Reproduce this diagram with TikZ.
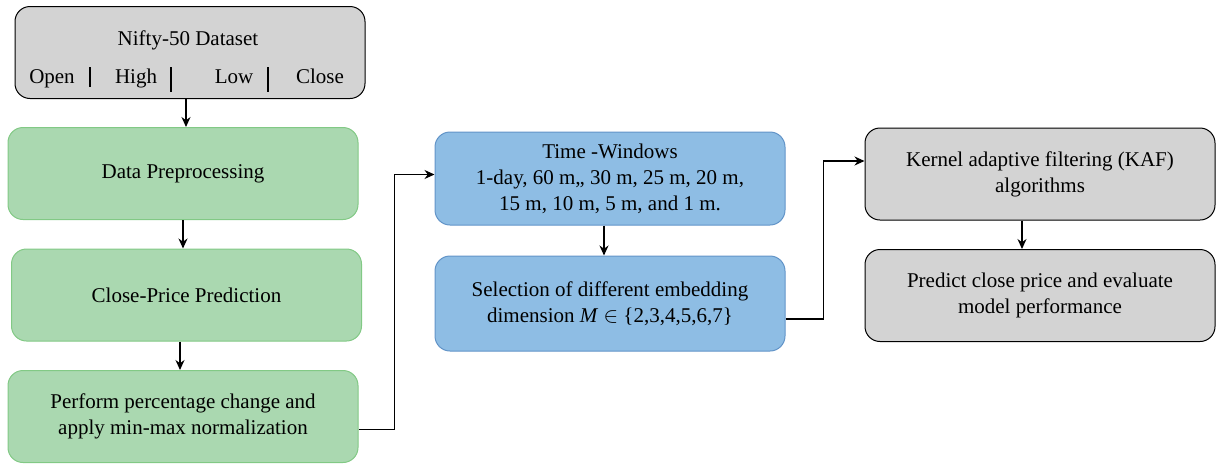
\documentclass[tikz,border=0pt]{standalone}
\usepackage{fontspec}
\setmainfont{Liberation Serif}
\usepackage{tikz}
\usetikzlibrary{
  arrows.meta,
  positioning
}
\definecolor{NiftyGray}{HTML}{D3D3D3}
\definecolor{NiftyGreen}{HTML}{AAD8B0}
\definecolor{NiftyGreenLine}{HTML}{82C985}
\definecolor{NiftyBlue}{HTML}{8EBDE4}
\definecolor{NiftyBlueLine}{HTML}{6294C8}

\begin{document}
\begin{tikzpicture}[
  x=0.5pt, y=-0.5pt,
  every node/.style={font=\fontsize{10.5}{13}\selectfont,align=center},
  stagebox/.style={rounded corners=7.5pt,minimum width=175pt,
    minimum height=46pt,inner sep=2pt,line width=0.5pt},
  graybox/.style={stagebox,draw=black,fill=NiftyGray},
  greenbox/.style={stagebox,draw=NiftyGreenLine,fill=NiftyGreen},
  bluebox/.style={stagebox,draw=NiftyBlueLine,fill=NiftyBlue},
  flow/.style={draw=black,line width=0.6pt,-{Stealth[length=5pt,width=4.5pt]}}
]
\useasboundingbox (0,0) rectangle (1223,467);

% dataset
\node[graybox] (dataset) at (190,52.5) {};
\node (title) at (188,40) {Nifty-50 Dataset};
\foreach \name/\x in {Open/52,High/136,Low/234,Close/320}
  \node[anchor=base] (col\name) at (\x,83) {\name};
\foreach \x/\yb in {90/87,171/92,268/92}
  \draw[line width=0.6pt] (\x,67) -- (\x,\yb);

% left column
\node[greenbox] (prep) at (183,173.5) {Data Preprocessing};
\node[greenbox] (close) at (186.5,295) {Close-Price Prediction};
\node[greenbox] (perform) at (183,416.5) {Perform percentage change and\\apply min-max normalization};

% middle column
\node[bluebox,minimum height=46.5pt] (windows) at (610,178.5)
  {Time -Windows\\1-day, 60 m,, 30 m, 25 m, 20 m,\\15 m, 10 m, 5 m, and 1 m.};
\node[bluebox,minimum height=47.5pt] (select) at (610,303.5)
  {Selection of different embedding\\dimension \textit{M} $\in$ \{2,3,4,5,6,7\}};

% right column
\node[graybox] (kaf) at (1040,174) {Kernel adaptive filtering (KAF)\\algorithms};
\node[graybox] (predict) at (1040,295.5) {Predict close price and evaluate\\model performance};

% connectors
\draw[flow] ([xshift=-2pt]dataset.south) -- ([xshift=-2pt]dataset.south |- prep.north);
\draw[flow] (prep.south) -- (prep.south |- close.north);
\draw[flow] ([xshift=-1.5pt]perform.north |- close.south) -- ([xshift=-1.5pt]perform.north);
\draw[flow] ([yshift=-6.5pt]perform.east) -- ++(18pt,0) |- ([yshift=2pt]windows.west);
\draw[flow] ([xshift=-3pt]windows.south) -- ([xshift=-3pt]windows.south |- select.north);
\draw[flow] ([yshift=-7.75pt]select.east) -- ++(19pt,0) |- ([yshift=6.5pt]kaf.west);
\draw[flow] ([xshift=-9pt]kaf.south) -- ([xshift=-9pt]kaf.south |- predict.north);
\end{tikzpicture}
\end{document}
